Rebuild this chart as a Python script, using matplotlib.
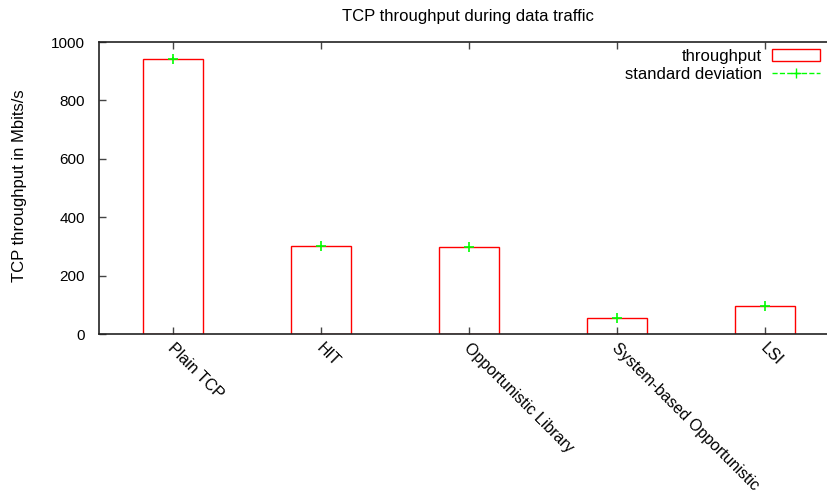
import matplotlib
matplotlib.use("Agg")
import matplotlib.pyplot as plt
from matplotlib.lines import Line2D
from matplotlib.patches import Rectangle

categories = ["Plain TCP", "HIT", "Opportunistic Library", "System-based Opportunistic", "LSI"]
throughput = [942, 301, 298, 55, 96]
std_dev = [5, 4, 4, 3, 3]
yticks = [0, 200, 400, 600, 800, 1000]

plt.rcParams['font.family'] = ['Liberation Sans', 'DejaVu Sans']
plt.rcParams['font.size'] = 10.5

W, H = 827, 497
fig = plt.figure(figsize=(W / 100, H / 100), dpi=100)
left, right, top, bottom = 99, 839, 42, 334
ax = fig.add_axes([left / W, 1 - bottom / H, (right - left) / W, (bottom - top) / H])

x = list(range(len(categories)))
ax.bar(x, throughput, width=0.405, facecolor='none', edgecolor='#ff0000', linewidth=1.0, zorder=2)
ax.errorbar(x, throughput, yerr=std_dev, fmt='+', color='#00ff00', markersize=7,
            markeredgewidth=1.2, elinewidth=1.2, capsize=0, zorder=3)

ax.set_xlim(-0.5, 4.5)
ax.set_ylim(0, 1000)
ax.set_yticks(yticks)
ax.set_xticks(x)
ax.set_xticklabels([])
for xi, lab in zip(x, categories):
    ax.annotate(lab, xy=(xi, 0), xycoords='data', xytext=(2, -4.5), textcoords='offset points',
                rotation=-45, ha='left', va='top', rotation_mode='anchor', fontsize=11.5)

ax.tick_params(axis='both', direction='in', length=5, width=1, color='#444444',
               top=True, right=False)
ax.tick_params(axis='y', pad=10, labelsize=11)
for s in ['left', 'bottom', 'top']:
    ax.spines[s].set_color('#222222')
    ax.spines[s].set_linewidth(1.2)
ax.spines['right'].set_visible(False)

fig.text(20 / W, 1 - 186 / H, "TCP throughput in Mbits/s", rotation=90, ha='center', va='center', fontsize=12)
fig.text(468 / W, 1 - 16 / H, "TCP throughput during data traffic", ha='center', va='center', fontsize=12)

h1 = Rectangle((0, 0), 1, 1, facecolor='none', edgecolor='#ff0000', linewidth=1.0)
h2 = Line2D([0], [0], color='#00ff00', linestyle='--', marker='+', markersize=7, linewidth=1.0)
leg = ax.legend([h1, h2], ["throughput", "standard deviation"], loc='upper right',
                bbox_to_anchor=((827 - left) / (right - left), 1.0), markerfirst=False,
                frameon=False, handlelength=2.9, handletextpad=0.6, borderaxespad=0.0,
                labelspacing=0.2, fontsize=12)

fig.savefig("out.png", dpi=100)
